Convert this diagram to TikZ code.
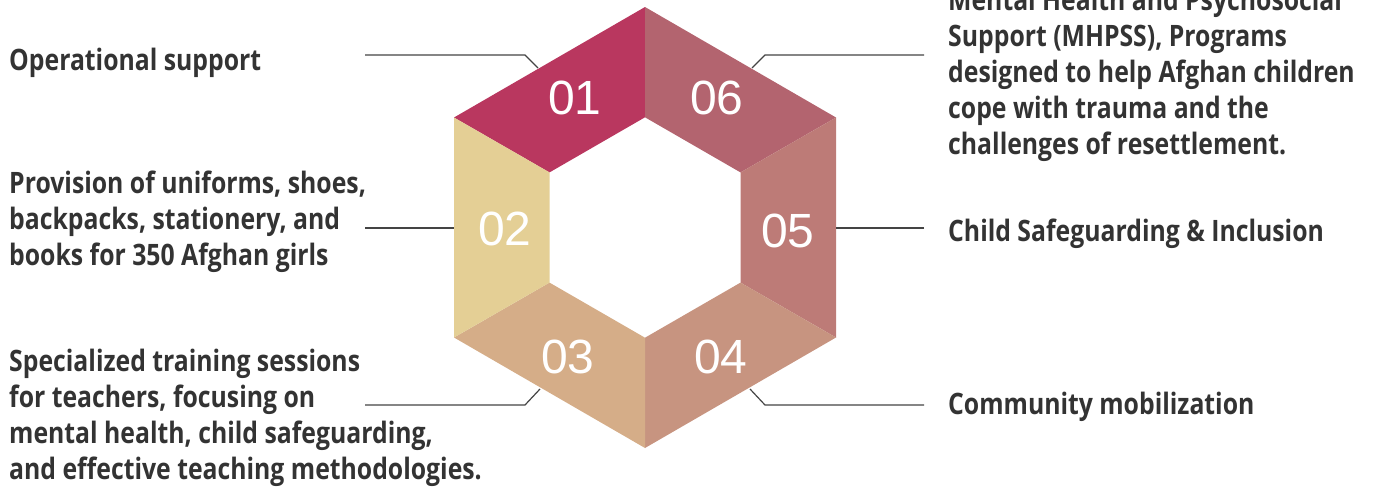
\documentclass[tikz,border=0pt]{standalone}
\usepackage{fontspec}
\setmainfont{Liberation Sans}
\newfontfamily\itemfont[FakeStretch=0.84]{Open Sans}

\definecolor{segone}{HTML}{B9375F}
\definecolor{segtwo}{HTML}{E4CF95}
\definecolor{segthree}{HTML}{D5AD88}
\definecolor{segfour}{HTML}{C79480}
\definecolor{segfive}{HTML}{BD7B77}
\definecolor{segsix}{HTML}{B3646F}
\definecolor{textgray}{HTML}{333333}
\definecolor{linegray}{HTML}{444444}

\tikzset{
    numlabel/.style={text=white, font=\fontsize{48}{48}\selectfont, inner sep=0pt},
    itemtext/.style={text=textgray, font=\itemfont\bfseries\fontsize{29.5}{36}\selectfont,
        align=left, inner sep=0pt},
    leader/.style={draw=linegray, line width=1.2pt}
}

\begin{document}
\begin{tikzpicture}[x=1pt,y=-1pt]
    \useasboundingbox (0,0) rectangle (1377,490);

    % ring segments
    \fill [segone] (454,117.5) -- (645,7) -- (645,117.3) -- (549.5,172.4) -- cycle;
    \fill [segsix] (645,7) -- (836,117.5) -- (740.5,172.4) -- (645,117.3) -- cycle;
    \fill [segfive] (836,117.5) -- (836,337.5) -- (740.5,282.6) -- (740.5,172.4) -- cycle;
    \fill [segfour] (836,337.5) -- (645,448) -- (645,337.7) -- (740.5,282.6) -- cycle;
    \fill [segthree] (645,448) -- (454,337.5) -- (549.5,282.6) -- (645,337.7) -- cycle;
    \fill [segtwo] (454,337.5) -- (454,117.5) -- (549.5,172.4) -- (549.5,282.6) -- cycle;

    \node [numlabel] (n1) at (575,98) {01};
    \node [numlabel] (n2) at (505,229) {02};
    \node [numlabel] (n3) at (568,357) {03};
    \node [numlabel] (n4) at (721,357) {04};
    \node [numlabel] (n5) at (788,231) {05};
    \node [numlabel] (n6) at (717,98) {06};

    % texts (base = last line)
    \node [itemtext, anchor=base west] (t1) at (9,70) {Operational support};
    \node [itemtext, anchor=base west] (t2) at (9,265)
        {Provision of uniforms, shoes,\\backpacks, stationery, and\\books for 350 Afghan girls};
    \node [itemtext, anchor=base west] (t3) at (9,479)
        {Specialized training sessions\\for teachers, focusing on\\mental health, child safeguarding,\\and effective teaching methodologies.};
    \node [itemtext, anchor=base west] (t6) at (948,154)
        {Mental Health and Psychosocial\\Support (MHPSS), Programs\\designed to help Afghan children\\cope with trauma and the\\challenges of resettlement.};
    \node [itemtext, anchor=base west] (t5) at (948,241) {Child Safeguarding \& Inclusion};
    \node [itemtext, anchor=base west] (t4) at (948,414) {Community mobilization};

    % leader lines
    \coordinate (a1) at (365,55);  \coordinate (b1) at (525,55);  \coordinate (e1) at (538,68);
    \coordinate (a2) at (365,228); \coordinate (e2) at (454,228);
    \coordinate (a3) at (365,405); \coordinate (b3) at (525,405); \coordinate (e3) at (540,389);
    \coordinate (a6) at (924,55);  \coordinate (b6) at (765,55);  \coordinate (e6) at (752,68);
    \coordinate (a5) at (924,228); \coordinate (e5) at (836,228);
    \coordinate (a4) at (924,405); \coordinate (b4) at (765,405); \coordinate (e4) at (750,389);
    \draw [leader] (a1) -- (b1) -- (e1);
    \draw [leader] (a2) -- (e2);
    \draw [leader] (a3) -- (b3) -- (e3);
    \draw [leader] (a6) -- (b6) -- (e6);
    \draw [leader] (a5) -- (e5);
    \draw [leader] (a4) -- (b4) -- (e4);
\end{tikzpicture}
\end{document}
